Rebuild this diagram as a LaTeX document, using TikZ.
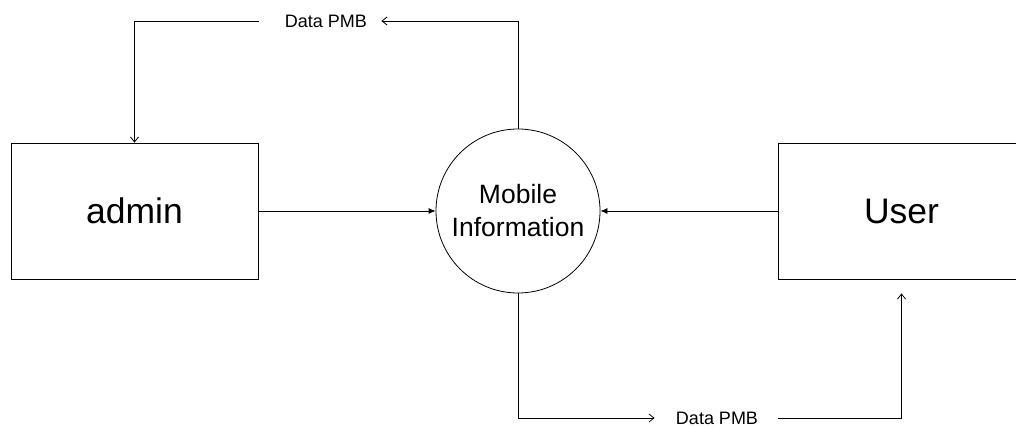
\documentclass[tikz,border=0pt]{standalone}
\usepackage{fontspec}
\setmainfont{Liberation Sans}
\usetikzlibrary{arrows.meta}
\begin{document}
\begin{tikzpicture}[x=1pt,y=-1pt,
  line width=0.8pt,
  entity/.style={draw, rectangle, minimum width=247pt, minimum height=136pt, inner sep=0pt, font=\fontsize{35.5}{40}\selectfont},
  process/.style={draw, circle, minimum size=164pt, inner sep=0pt, align=center, font=\fontsize{26.5}{33}\selectfont},
  flowlabel/.style={inner sep=0pt, font=\fontsize{18}{21}\selectfont},
  openarrow/.style={-{Straight Barb[length=5pt,width=8pt]}},
  fillarrow/.style={-{Latex[length=7pt,width=6pt]}}]
\useasboundingbox (0,0) rectangle (1016,427);
\node[entity] (admin) at (134.5,211) {admin};
\node[entity] (user) at (901.5,211) {User};
\node[process] (circ) at (518,211) {Mobile\\Information};
\node[flowlabel] (lbl1) at (326,21) {Data PMB};
\node[flowlabel] (lbl2) at (717,418) {Data PMB};
\draw[fillarrow] (admin.east) -- (circ.west);
\draw[fillarrow] (user.west) -- (circ.east);
\draw[openarrow, shorten >=14pt] (circ.north) |- (lbl1.east);
\draw[openarrow, shorten <=26pt] (lbl1.west) -| (admin.north);
\draw[openarrow, shorten >=21pt] (circ.south) |- (lbl2.west);
\draw[openarrow, shorten <=20pt, shorten >=14pt] (lbl2.east) -| (user.south);
\end{tikzpicture}
\end{document}
